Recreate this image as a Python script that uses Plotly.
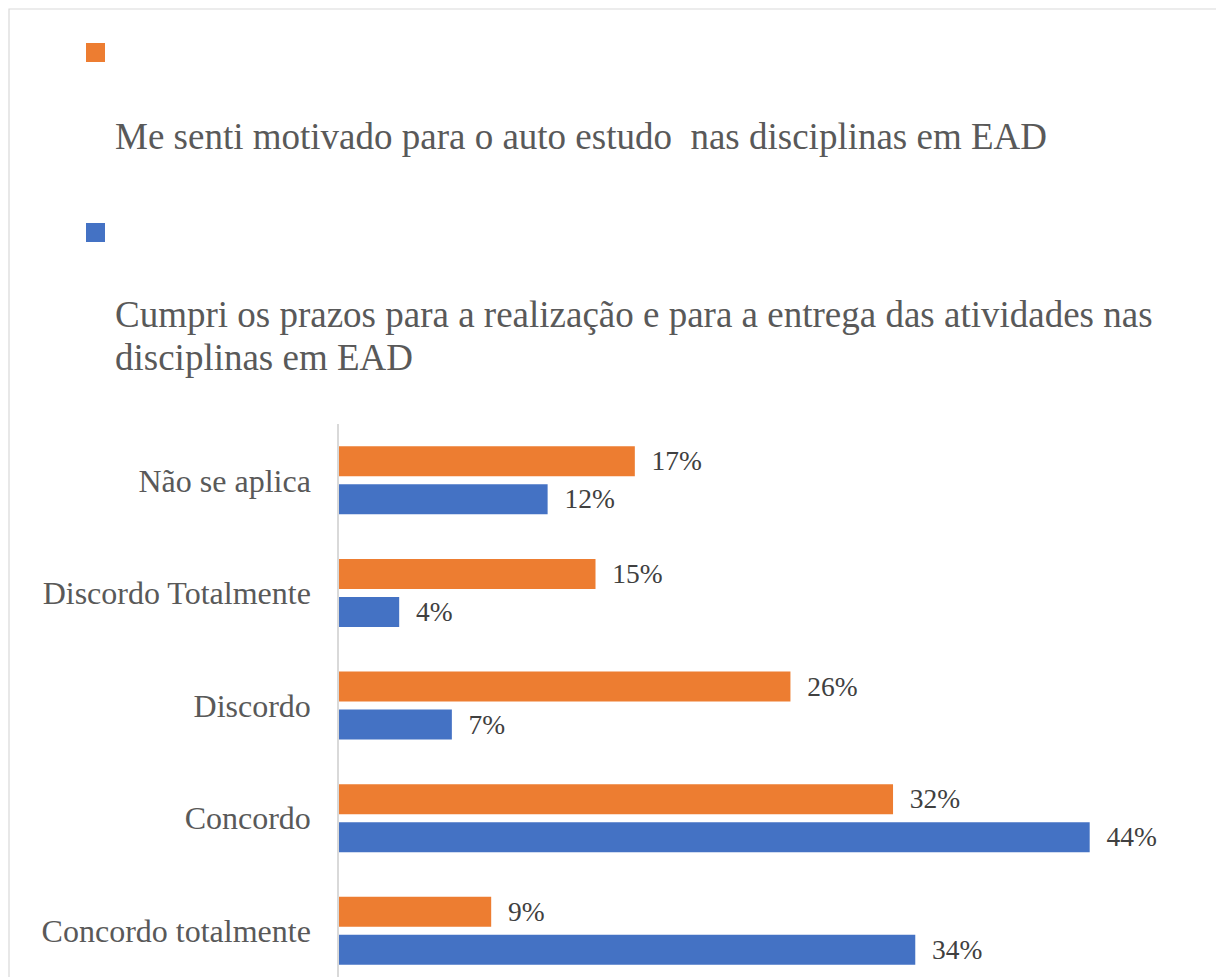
import plotly.graph_objects as go

categories = ["Não se aplica", "Discordo Totalmente", "Discordo", "Concordo", "Concordo totalmente"]
series_names = [
    "Me senti motivado para o auto estudo  nas disciplinas em EAD",
    "Cumpri os prazos para a realização e para a entrega das atividades nas disciplinas em EAD",
]
motivado = [17.3, 15.0, 26.4, 32.4, 8.9]
prazos = [12.2, 3.52, 6.6, 43.9, 33.7]

ORANGE = "#ED7D31"
BLUE = "#4472C4"
FONT = "Liberation Serif, Times New Roman, serif"

# page has an 8px body margin, so the figure is 8px smaller than the window
W, H = 1216, 969
ML, MR, MT, MB = 331, 30, 416, 0
PW, PH = W - ML - MR, H - MT - MB


def px(x):
    return (x - ML) / PW


def py(y):
    return 1 - (y - MT) / PH


fig = go.Figure()
for vals, name, col in [(motivado, series_names[0], ORANGE), (prazos, series_names[1], BLUE)]:
    fig.add_trace(go.Bar(
        y=categories, x=vals, orientation="h", name=name,
        marker=dict(color=col, line=dict(width=0)),
        texttemplate="\u00a0\u00a0%{x:.0f}%", textposition="outside",
        textfont=dict(family=FONT, size=33, color="#404040"), cliponaxis=False,
    ))

# legend drawn manually (square above its text, as in the reference)
shapes = [
    dict(type="rect", xref="paper", yref="paper", x0=px(1), x1=px(1260), y0=py(1), y1=py(1020),
         line=dict(color="#d9d9d9", width=1.2), fillcolor="rgba(0,0,0,0)", layer="below"),
    dict(type="rect", xref="paper", yref="paper", x0=px(78), x1=px(97), y0=py(35), y1=py(54),
         line=dict(width=0), fillcolor=ORANGE),
    dict(type="rect", xref="paper", yref="paper", x0=px(78), x1=px(97), y0=py(215), y1=py(234),
         line=dict(width=0), fillcolor=BLUE),
]
legend_lines = [
    ("Me senti motivado para o auto estudo  nas disciplinas em EAD", 128.5),
    ("Cumpri os prazos para a realização e para a entrega das atividades nas", 306.5),
    ("disciplinas em EAD", 349.5),
]
annotations = [
    dict(text=t, xref="paper", yref="paper", x=px(105), y=py(yc), xanchor="left", yanchor="middle",
         showarrow=False, font=dict(family=FONT, size=37, color="#595959"))
    for t, yc in legend_lines
]

fig.update_layout(
    width=W, height=H,
    margin=dict(l=ML, r=MR, t=MT, b=MB, pad=0),
    paper_bgcolor="white", plot_bgcolor="white",
    barmode="group", bargap=0.325, bargroupgap=0.211,
    showlegend=False,
    shapes=shapes, annotations=annotations,
    xaxis=dict(range=[0, 50], visible=False, showgrid=False, zeroline=False),
    yaxis=dict(
        categoryorder="array", categoryarray=categories, range=[4.41, -0.5],
        showline=True, linecolor="#d9d9d9", linewidth=1.5, ticks="",
        ticklabelstandoff=20, showgrid=False, zeroline=False,
        tickfont=dict(family=FONT, size=32, color="#595959"),
    ),
)

fig.write_html("out.html")
